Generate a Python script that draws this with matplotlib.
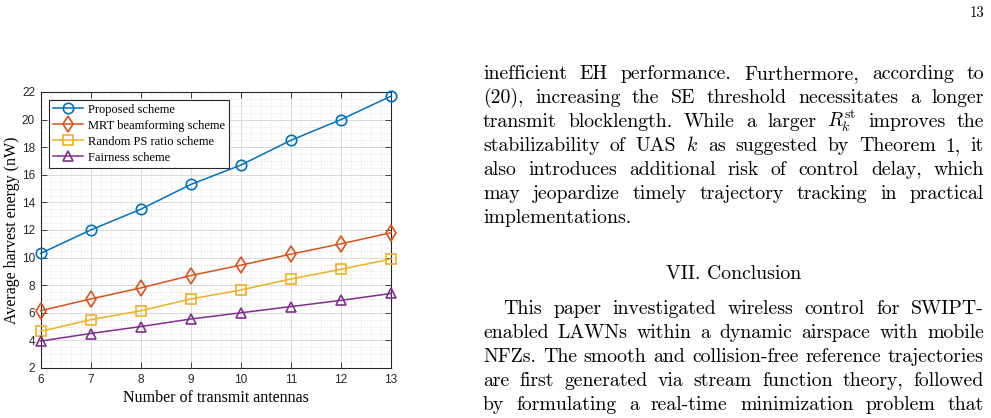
import matplotlib
matplotlib.use("Agg")
import matplotlib.pyplot as plt
from matplotlib.ticker import MultipleLocator

# ---------------- data ----------------
antennas = [6, 7, 8, 9, 10, 11, 12, 13]
proposed = [10.3, 12.0, 13.5, 15.3, 16.7, 18.5, 20.0, 21.7]
mrt = [6.15, 7.0, 7.8, 8.7, 9.45, 10.25, 11.0, 11.8]
random_ps = [4.65, 5.5, 6.15, 7.0, 7.65, 8.45, 9.15, 9.9]
fairness = [3.95, 4.5, 5.0, 5.55, 6.0, 6.45, 6.9, 7.4]
series_labels = ["Proposed scheme", "MRT beamforming scheme",
                 "Random PS ratio scheme", "Fairness scheme"]
x_label = "Number of transmit antennas"
y_label = "Average harvest energy (nW)"

para1 = [
    "inefficient EH performance. Furthermore, according to",
    "(20), increasing the SE threshold necessitates a longer",
    "transmit blocklength. While a larger $R_k^{\\mathrm{st}}$ improves the",
    "stabilizability of UAS $k$ as suggested by Theorem 1, it",
    "also introduces additional risk of control delay, which",
    "may jeopardize timely trajectory tracking in practical",
    "implementations.",
]
heading = "VII. Conclusion"
para2 = [
    "This paper investigated wireless control for SWIPT-",
    "enabled LAWNs within a dynamic airspace with mobile",
    "NFZs. The smooth and collision-free reference trajectories",
    "are first generated via stream function theory, followed",
    "by formulating a real-time minimization problem that",
]
page_number = "13"

# ---------------- figure ----------------
W, H = 991, 418
fig = plt.figure(figsize=(W / 100, H / 100), dpi=100)
plt.rcParams['mathtext.fontset'] = 'cm'

ax_l, ax_r, ax_t, ax_b = 40.5, 391, 92, 368
ax = fig.add_axes([ax_l / W, 1 - ax_b / H, (ax_r - ax_l) / W, (ax_b - ax_t) / H])

colors = ["#0072BD", "#D95319", "#EDB120", "#7E2F8E"]
markers = ["o", "d", "s", "^"]
msizes = [7.5, 8.5, 6.5, 7.5]
for ys, c, m, ms, lab in zip([proposed, mrt, random_ps, fairness], colors, markers,
                             msizes, series_labels):
    ax.plot(antennas, ys, color=c, marker=m, markersize=ms, markerfacecolor='none',
            markeredgewidth=1.2, linewidth=1.1, label=lab, clip_on=False, zorder=3)

ax.set_xlim(6, 13)
ax.set_ylim(2, 22)
ax.xaxis.set_major_locator(MultipleLocator(1))
ax.yaxis.set_major_locator(MultipleLocator(2))
ax.xaxis.set_minor_locator(MultipleLocator(0.2))
ax.yaxis.set_minor_locator(MultipleLocator(0.5))
ax.grid(True, which='major', color='#d9d9d9', linewidth=0.7, linestyle='-')
ax.grid(True, which='minor', color='#e3e3e3', linewidth=0.6, linestyle=(0, (1.5, 1.5)))
ax.set_axisbelow(True)
for s in ax.spines.values():
    s.set_color('#262626')
    s.set_linewidth(0.8)
ax.tick_params(which='both', direction='in', top=True, right=True, colors='#262626')
ax.tick_params(which='major', length=4, width=0.6, labelsize=8.5, pad=4)
ax.tick_params(which='minor', length=0)
for lbl in ax.get_xticklabels() + ax.get_yticklabels():
    lbl.set_fontfamily('Liberation Sans')

ax.set_xlabel(x_label, fontfamily='Liberation Serif', fontsize=11.5, labelpad=3)
ax.set_ylabel(y_label, fontfamily='Liberation Serif', fontsize=11.5, labelpad=1)

leg = ax.legend(loc='upper left', bbox_to_anchor=(8.5 / (ax_r - ax_l), 1 - 8 / (ax_b - ax_t)),
                borderaxespad=0, prop={'family': 'Liberation Serif', 'size': 9},
                fancybox=False, framealpha=1, edgecolor='#262626', handlelength=2.4,
                handletextpad=0.4, labelspacing=0.32, borderpad=0.3)
leg.get_frame().set_linewidth(0.8)

# ---------------- page text ----------------
renderer = fig.canvas.get_renderer()
FAM = 'cmr10'


def width_of(s, size):
    t = fig.text(0, 0, s, fontsize=size, fontfamily=FAM)
    w = t.get_window_extent(renderer).width
    t.remove()
    return w


left_x, right_x = 483, 984
fs = 10 * (right_x - left_x) / width_of(para2[2], 10)


def put_line(s, yb, x0, x1, justify=True):
    words = s.split(" ")
    if not justify or len(words) == 1:
        fig.text(x0 / W, 1 - yb / H, s, fontsize=fs, fontfamily=FAM, va='baseline', ha='left')
        return
    widths = [width_of(wd, fs) for wd in words]
    gap = (x1 - x0 - sum(widths)) / (len(words) - 1)
    x = x0
    for wd, w in zip(words, widths):
        fig.text(x / W, 1 - yb / H, wd, fontsize=fs, fontfamily=FAM, va='baseline', ha='left')
        x += w + gap


def baseline(yc):
    return yc + 4


y1 = [75, 99, 123, 147, 171, 195, 219]
for i, (s, y) in enumerate(zip(para1, y1)):
    put_line(s, baseline(y), left_x, right_x, justify=(i < len(para1) - 1))

fig.text(((left_x + right_x) / 2) / W, 1 - baseline(275) / H, heading, fontsize=fs,
         fontfamily=FAM, ha='center', va='baseline')
y2 = [310, 334, 358, 382, 406]
for i, (s, y) in enumerate(zip(para2, y2)):
    x0 = left_x + 20 if i == 0 else left_x
    put_line(s, baseline(y), x0, right_x, justify=True)

fig.text(984 / W, 1 - 17 / H, page_number, fontsize=fs * 0.75, fontfamily=FAM,
         ha='right', va='baseline')

fig.savefig("out.png", dpi=100)
